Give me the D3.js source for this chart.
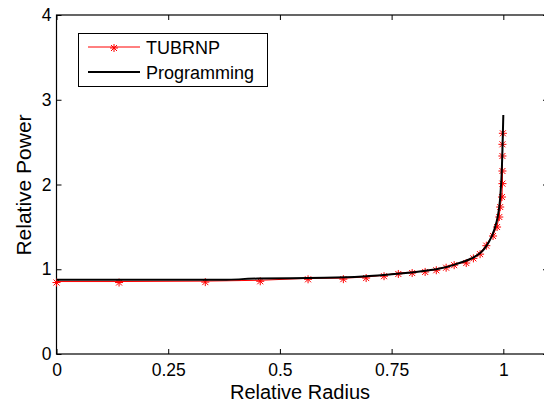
<!DOCTYPE html>
<html>
<head>
<meta charset="utf-8">
<script src="https://cdn.jsdelivr.net/npm/d3@7"></script>
<style>
  body { margin: 0; background: #fff; }
  svg text { font-family: "Liberation Sans", Arial, sans-serif; fill: #000; }
</style>
</head>
<body>
<div id="chart"></div>
<script>
// TUBRNP samples (red stars)
var tubrnpX = [0, 0.14, 0.333, 0.456, 0.563, 0.642, 0.693, 0.733, 0.765, 0.796, 0.825, 0.85,
  0.872, 0.89, 0.917, 0.933, 0.948, 0.962, 0.977, 0.986, 0.991, 0.993, 0.997, 0.998, 0.998,
  0.998, 0.998, 0.999];
var tubrnpY = [0.855, 0.855, 0.86, 0.87, 0.893, 0.895, 0.908, 0.93, 0.956, 0.967, 0.98, 1.0,
  1.03, 1.06, 1.085, 1.14, 1.19, 1.29, 1.404, 1.51, 1.628, 1.746, 1.864, 2.022, 2.171,
  2.348, 2.486, 2.616];

// Programming curve (black line)
var progX = [0, 0.2, 0.38, 0.45, 0.6, 0.7, 0.75, 0.8, 0.85, 0.9, 0.93, 0.95, 0.965, 0.975,
  0.985, 0.99, 0.995, 0.998, 1.0];
var progY = [0.875, 0.875, 0.877, 0.89, 0.9, 0.92, 0.94, 0.965, 1.0, 1.07, 1.13, 1.2, 1.3,
  1.4, 1.56, 1.7, 2.0, 2.4, 2.82];

var xTicks = [0, 0.25, 0.5, 0.75, 1];
var xTickLabels = ["0", "0.25", "0.5", "0.75", "1"];
var yTicks = [0, 1, 2, 3, 4];
var yTickLabels = ["0", "1", "2", "3", "4"];

var width = 544, height = 403;
var margin = {left: 56.5, top: 15, right: 548, bottom: 354};

var x = d3.scaleLinear().domain([0, 1.1]).range([margin.left, margin.right]);
var y = d3.scaleLinear().domain([0, 4]).range([margin.bottom, margin.top]);

var svg = d3.select('#chart')
  .append('svg')
    .attr('width', width)
    .attr('height', height);

// inward ticks, MATLAB style
function styleAxis(g) {
  g.select('.domain').remove();
  g.selectAll('.tick line').attr('stroke', '#000');
  g.selectAll('.tick text').style('font-size', '17.5px');
}

svg.append('g')
  .attr('transform', 'translate(0,' + margin.bottom + ')')
  .call(d3.axisBottom(x).tickValues(xTicks)
    .tickFormat(function (d, i) { return xTickLabels[i]; })
    .tickSizeInner(-5).tickSizeOuter(0).tickPadding(10))
  .call(styleAxis);

svg.append('g')
  .attr('transform', 'translate(0,' + margin.top + ')')
  .call(d3.axisTop(x).tickValues(xTicks).tickFormat('')
    .tickSizeInner(-5).tickSizeOuter(0))
  .call(styleAxis);

svg.append('g')
  .attr('transform', 'translate(' + margin.left + ',0)')
  .call(d3.axisLeft(y).tickValues(yTicks)
    .tickFormat(function (d, i) { return yTickLabels[i]; })
    .tickSizeInner(-5).tickSizeOuter(0).tickPadding(5))
  .call(styleAxis);

svg.append('g')
  .attr('transform', 'translate(' + margin.right + ',0)')
  .call(d3.axisRight(y).tickValues(yTicks).tickFormat('')
    .tickSizeInner(-5).tickSizeOuter(0))
  .call(styleAxis);

svg.append('rect')
  .attr('x', margin.left)
  .attr('y', margin.top)
  .attr('width', margin.right - margin.left)
  .attr('height', margin.bottom - margin.top)
  .attr('fill', 'none')
  .attr('stroke', '#000')
  .attr('stroke-width', 1.2);

var starPath = 'M-4,0H4M0,-4V4M-3,-3L3,3M-3,3L3,-3';

// TUBRNP
var tubrnp = tubrnpX.map(function (v, i) { return [v, tubrnpY[i]]; });
svg.append('path')
  .datum(tubrnp)
  .attr('fill', 'none')
  .attr('stroke', '#f00')
  .attr('stroke-width', 1)
  .attr('d', d3.line().x(function (d) { return x(d[0]); }).y(function (d) { return y(d[1]); }));

svg.selectAll('path.star')
  .data(tubrnp)
  .enter()
    .append('path')
      .classed('star', true)
      .attr('d', starPath)
      .attr('transform', function (d) { return 'translate(' + x(d[0]) + ',' + (y(d[1]) + 1) + ')'; })
      .attr('fill', 'none')
      .attr('stroke', '#f00')
      .attr('stroke-width', 1);

// Programming
var prog = progX.map(function (v, i) { return [v, progY[i]]; });
svg.append('path')
  .datum(prog)
  .attr('fill', 'none')
  .attr('stroke', '#000')
  .attr('stroke-width', 2)
  .attr('d', d3.line().curve(d3.curveMonotoneY)
    .x(function (d) { return x(d[0]); }).y(function (d) { return y(d[1]); }));

// axis titles
svg.append('text')
  .attr('x', 300)
  .attr('y', 399)
  .attr('text-anchor', 'middle')
  .style('font-size', '20px')
  .text('Relative Radius');

svg.append('text')
  .attr('transform', 'translate(31,185) rotate(-90)')
  .attr('text-anchor', 'middle')
  .style('font-size', '21px')
  .text('Relative Power');

// legend
var legend = svg.append('g');
legend.append('rect')
  .attr('x', 78.5).attr('y', 33.5)
  .attr('width', 189).attr('height', 53)
  .attr('fill', '#fff')
  .attr('stroke', '#000')
  .attr('stroke-width', 1);

legend.append('line')
  .attr('x1', 88).attr('x2', 140).attr('y1', 47).attr('y2', 47)
  .attr('stroke', '#f00').attr('stroke-width', 1);
legend.append('path')
  .attr('d', starPath)
  .attr('transform', 'translate(114,48)')
  .attr('fill', 'none').attr('stroke', '#f00');
legend.append('text')
  .attr('x', 146).attr('y', 53.5)
  .style('font-size', '18px')
  .text('TUBRNP');

legend.append('line')
  .attr('x1', 88).attr('x2', 140).attr('y1', 72).attr('y2', 72)
  .attr('stroke', '#000').attr('stroke-width', 2);
legend.append('text')
  .attr('x', 146).attr('y', 78.5)
  .style('font-size', '18px')
  .text('Programming');
</script>
</body>
</html>
